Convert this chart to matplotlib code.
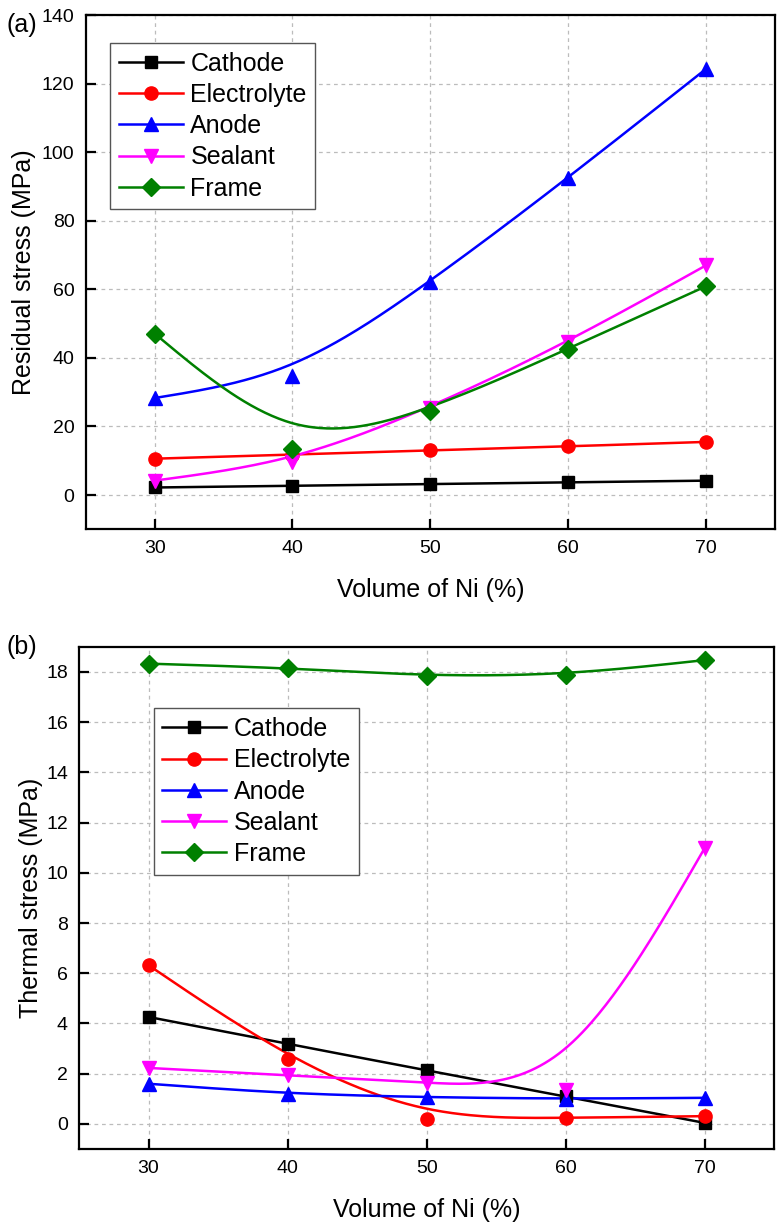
import numpy as np
import matplotlib
matplotlib.use("Agg")
import matplotlib.pyplot as plt

plt.rcParams['font.family'] = ['Liberation Sans', 'DejaVu Sans']

# ---- data ----
ni_volume = [30, 40, 50, 60, 70]
series_names = ["Cathode", "Electrolyte", "Anode", "Sealant", "Frame"]

residual_cathode = [2.2, 2.7, 3.2, 3.7, 4.2]
residual_electrolyte = [10.6, 11.8, 13.0, 14.2, 15.5]
residual_anode = [28.3, 34.8, 62.1, 92.5, 124.3]
residual_sealant = [4.2, 9.6, 25.4, 44.6, 67.0]
residual_frame = [47.1, 13.5, 24.6, 42.7, 60.9]

thermal_cathode = [4.26, 3.19, 2.13, 1.10, 0.04]
thermal_electrolyte = [6.32, 2.57, 0.21, 0.24, 0.31]
thermal_anode = [1.60, 1.20, 1.06, 1.00, 1.04]
thermal_sealant = [2.23, 1.94, 1.64, 1.37, 10.99]
thermal_frame = [18.33, 18.16, 17.83, 17.87, 18.47]

colors = ["#000000", "#ff0000", "#0000ff", "#ff00ff", "#008000"]
markers = ["s", "o", "^", "v", "D"]
msizes = [8.5, 9.5, 10.5, 10.5, 9]


def bspline(xs, ys, per_seg=60):
    """Uniform cubic B-spline with reflected end points (passes through the ends)."""
    P = np.column_stack([xs, ys]).astype(float)
    P = np.vstack([2 * P[0] - P[1], P, 2 * P[-1] - P[-2]])
    pts = []
    for i in range(1, len(P) - 2):
        t = np.linspace(0, 1, per_seg, endpoint=(i == len(P) - 3))[:, None]
        b0 = (1 - t) ** 3 / 6
        b1 = (3 * t ** 3 - 6 * t ** 2 + 4) / 6
        b2 = (-3 * t ** 3 + 3 * t ** 2 + 3 * t + 1) / 6
        b3 = t ** 3 / 6
        pts.append(b0 * P[i - 1] + b1 * P[i] + b2 * P[i + 1] + b3 * P[i + 2])
    pts = np.vstack(pts)
    return pts[:, 0], pts[:, 1]


fig = plt.figure(figsize=(7.84, 12.25), dpi=100)
ax1 = fig.add_axes([0.1093, 0.5679, 0.8792, 0.4198])
ax2 = fig.add_axes([0.1008, 0.0620, 0.8868, 0.4100])

panels = [
    (ax1, [residual_cathode, residual_electrolyte, residual_anode, residual_sealant, residual_frame],
     "Residual stress (MPa)", (-10, 140), np.arange(0, 141, 20), (0.0358, 0.9460), 4),
    (ax2, [thermal_cathode, thermal_electrolyte, thermal_anode, thermal_sealant, thermal_frame],
     "Thermal stress (MPa)", (-1, 19), np.arange(0, 19, 2), (0.1074, 0.8775), 2),
]

for ax, data, ylab, ylim, yticks, lpos, ylp in panels:
    for name, vals, c, mk, ms in zip(series_names, data, colors, markers, msizes):
        cx, cy = bspline(ni_volume, vals)
        ax.plot(cx, cy, color=c, lw=1.8, zorder=3)
        ax.plot(ni_volume, vals, linestyle='none', marker=mk, color=c, ms=ms, zorder=4)
        ax.plot([], [], color=c, lw=1.8, marker=mk, ms=ms, label=name)
    ax.set_xlim(25, 75)
    ax.set_ylim(*ylim)
    ax.set_xticks(ni_volume)
    ax.set_yticks(yticks)
    ax.grid(True, color="#bcbcbc", linestyle=(0, (3, 3)), linewidth=0.9)
    ax.set_axisbelow(True)
    for s in ax.spines.values():
        s.set_linewidth(1.6)
    ax.tick_params(direction='in', length=7, width=1.6, labelsize=14, pad=8,
                   top=False, right=False)
    ax.set_xlabel("Volume of Ni (%)", fontsize=18, labelpad=15)
    ax.set_ylabel(ylab, fontsize=18, labelpad=ylp)
    leg = ax.legend(loc='upper left', bbox_to_anchor=lpos, borderaxespad=0,
                    fontsize=18, fancybox=False, framealpha=1, edgecolor="#555555",
                    handlelength=2.55, handletextpad=0.3, labelspacing=0.29,
                    borderpad=0.35)
    leg.get_frame().set_linewidth(1.0)

fig.text(7 / 784, 1 - 25 / 1225, "(a)", fontsize=18, va='center', ha='left')
fig.text(7 / 784, 1 - 647 / 1225, "(b)", fontsize=18, va='center', ha='left')

fig.savefig("out.png", dpi=100)
